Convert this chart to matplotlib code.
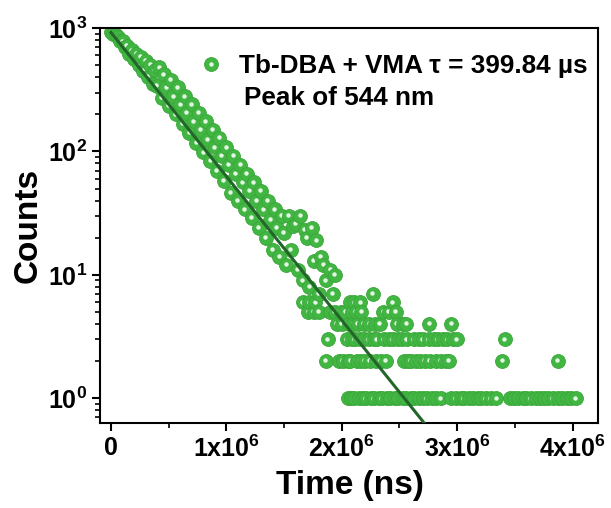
#!/usr/bin/env python3
"""Luminescence decay of Tb-DBA + VMA at 544 nm, log-count scatter with fit line."""

import matplotlib
matplotlib.use("Agg")
import matplotlib.pyplot as plt
import matplotlib.ticker as mticker
from matplotlib.legend_handler import HandlerTuple
from matplotlib.lines import Line2D
from matplotlib.transforms import offset_copy
import numpy as np

plt.rcParams["font.family"] = ["Liberation Sans", "DejaVu Sans"]
plt.rcParams["font.weight"] = "bold"
plt.rcParams["mathtext.fontset"] = "custom"
plt.rcParams["mathtext.rm"] = "Liberation Sans:bold"
plt.rcParams["mathtext.it"] = "Liberation Sans:bold"
plt.rcParams["mathtext.bf"] = "Liberation Sans:bold"

# --- data (time in microseconds) -------------------------------------------
decay_t_us = list(range(0, 1500, 20))
decay_counts = [
    930, 900, 870, 840, 780, 780, 700, 720, 620, 660,
    560, 620, 500, 580, 450, 540, 400, 500, 350, 460,
    340, 480, 270, 420, 330, 235, 380, 280, 200, 330,
    240, 168, 280, 205, 142, 240, 175, 118, 205, 150,
    98, 175, 125, 84, 150, 108, 70, 128, 92, 58,
    108, 78, 46, 92, 66, 40, 78, 56, 34, 66,
    48, 29, 56, 40, 24, 48, 34, 20, 40, 28,
    16, 34, 24, 14, 30,
]

mid_t_us = [1500, 1520, 1540, 1560, 1580, 1600, 1620, 1640, 1660, 1680,
            1700, 1720, 1740, 1760, 1780, 1800, 1820, 1840, 1860, 1900,
            1920, 1940]
mid_counts = [22, 12, 30, 16, 25, 26, 11, 30, 9, 23,
              20, 8, 24, 13, 19, 7, 14, 12, 9, 11,
              7, 10]

# tail: discrete count levels
t_count7_us = [2270]
t_count6_us = [1660, 1720, 1770, 2070, 2110, 2160, 2440]
t_count5_us = [1710, 1760, 1800, 1900, 1940, 1990, 2030, 2090, 2120, 2170,
               2360, 2410, 2470]
t_count4_us = [1960, 2000, 2060, 2100, 2140, 2190, 2240, 2290, 2330, 2480,
               2530, 2560, 2760, 2950]
t_count3_us = [1880, 2045, 2085, 2115, 2155, 2195, 2235, 2275, 2305, 2365,
               2405, 2445, 2485, 2525, 2565, 2625, 2665, 2705, 2755, 2795,
               2835, 2875, 2915, 2965, 2995, 3410]
t_count2_us = [1860, 1980, 2010, 2050, 2075, 2130, 2165, 2200, 2245, 2300,
               2340, 2380, 2535, 2570, 2600, 2640, 2680, 2720, 2765, 2820,
               2860, 2900, 2930, 3390, 3870]
t_count1_us = [2050, 2080, 2110, 2150, 2180, 2210, 2250, 2280, 2320, 2350,
               2390, 2420, 2460, 2490, 2530, 2560, 2600, 2630, 2670, 2700,
               2740, 2780, 2820, 2860, 2950, 2990, 3030, 3060, 3100, 3140,
               3180, 3210, 3250, 3290, 3340, 3460, 3490, 3530, 3570, 3600,
               3640, 3680, 3720, 3750, 3790, 3830, 3870, 3910, 3950, 3990,
               4030]

# single-exponential fit is a straight line on the log axis
fit_t_us = [0, 2800]
fit_counts = [920, 0.5]

LEGEND_LABEL = "Tb-DBA + VMA \u03c4 = 399.84 \u00b5s"
NOTE = "Peak of 544 nm"

BALL = "#42b642"
BALL_EDGE = "#39a639"
SHINE = "#e4f5e4"
FIT_COLOR = "#22662a"
BALL_MS = 10.0
SHINE_MS = 3.2


def draw_balls(ax, t_ns, counts):
    hl = offset_copy(ax.transData, fig=ax.figure, x=-0.5, y=0.5, units="points")
    order = np.argsort(t_ns, kind="stable")
    for i, k in enumerate(order):
        z = 2 + i * 0.002
        x, y = t_ns[k], counts[k]
        ax.plot([x], [y], "o", ms=BALL_MS, mfc=BALL, mec=BALL_EDGE, mew=0.6, zorder=z)
        ax.plot([x], [y], "o", ms=SHINE_MS, mfc=SHINE, mec="none", zorder=z + 0.001,
                transform=hl)


fig = plt.figure(figsize=(6.11, 5.08), dpi=100)
ax = fig.add_axes([0.1637, 0.1673, 0.8150, 0.7776])

t_all = list(decay_t_us) + list(mid_t_us)
c_all = list(decay_counts) + list(mid_counts)
for level, times in [(7, t_count7_us), (6, t_count6_us), (5, t_count5_us),
                     (4, t_count4_us), (3, t_count3_us), (2, t_count2_us),
                     (1, t_count1_us)]:
    t_all += times
    c_all += [level] * len(times)

t_ns = np.array(t_all, dtype=float) * 1000.0
c_all = np.array(c_all, dtype=float)
draw_balls(ax, t_ns, c_all)

ax.plot(np.array(fit_t_us) * 1000.0, fit_counts, color=FIT_COLOR, lw=2.2, zorder=10)

ax.set_yscale("log")
ax.set_xlim(-0.095e6, 4.22e6)
ax.set_ylim(0.63, 1000)

ax.set_xticks([0, 1e6, 2e6, 3e6, 4e6])
ax.set_xticklabels(["0", "1x10$^{6}$", "2x10$^{6}$", "3x10$^{6}$", "4x10$^{6}$"])
ax.xaxis.set_minor_locator(mticker.MultipleLocator(5e5))
ax.set_yticks([1, 10, 100, 1000])
ax.set_yticklabels(["10$^{0}$", "10$^{1}$", "10$^{2}$", "10$^{3}$"])
ax.yaxis.set_minor_locator(mticker.LogLocator(base=10, subs=np.arange(2, 10)))
ax.yaxis.set_minor_formatter(mticker.NullFormatter())

ax.tick_params(which="major", direction="out", length=6, width=1.5, labelsize=18, pad=3)
ax.tick_params(which="minor", direction="out", length=3.5, width=1.2)
for sp in ax.spines.values():
    sp.set_linewidth(1.5)

ax.set_xlabel("Time (ns)", fontsize=24, fontweight="bold")
ax.set_ylabel("Counts", fontsize=24, fontweight="bold")
ax.xaxis.set_label_coords(0.502, -0.118)
ax.yaxis.set_label_coords(-0.113, 0.5)

ball_h = Line2D([], [], ls="none", marker="o", ms=BALL_MS, mfc=BALL, mec=BALL_EDGE, mew=0.6)
hl_h = Line2D([], [], ls="none", marker="o", ms=SHINE_MS, mfc=SHINE, mec="none")
ax.legend(handles=[(ball_h, hl_h)], labels=[LEGEND_LABEL],
          handler_map={tuple: HandlerTuple(ndivide=1)},
          loc="center left", bbox_to_anchor=(0.196, 0.904), frameon=False,
          borderpad=0, borderaxespad=0, handlelength=1.0, handletextpad=0.6,
          prop={"size": 18.8, "weight": "bold"})
ax.text(0.289, 0.823, NOTE, transform=ax.transAxes, fontsize=18.8,
        fontweight="bold", ha="left", va="center")

fig.savefig("out.png", dpi=100)
